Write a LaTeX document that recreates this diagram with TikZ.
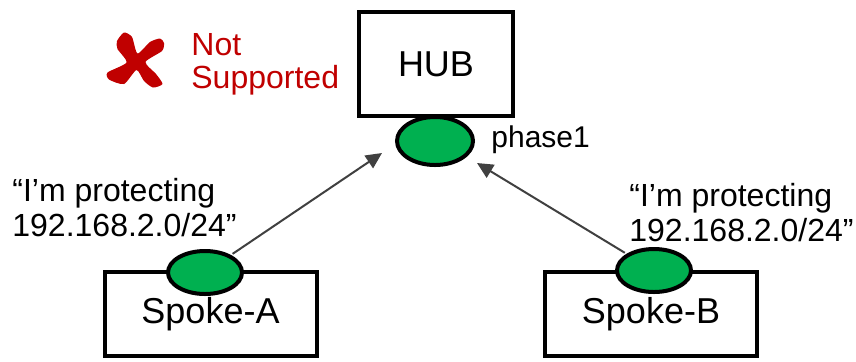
\documentclass[tikz,border=0pt]{standalone}
\usepackage{fontspec}
\setmainfont{Liberation Sans}
\usepackage{xcolor}
\usepackage{tikz}
\usetikzlibrary{shapes.geometric,arrows.meta}
\definecolor{tunnelgreen}{HTML}{00B050}
\definecolor{notred}{HTML}{C00000}
\definecolor{arrowgray}{HTML}{404040}
\tikzset{
	boxnode/.style={rectangle, draw=black, fill=white, line width=2pt, minimum width=106pt, minimum height=42pt, inner sep=0pt, font=\fontsize{18}{20}\selectfont},
	tunnelnode/.style={ellipse, draw=black, fill=tunnelgreen, line width=2pt, minimum width=37pt, minimum height=21.5pt, inner sep=0pt}
}
\tikzset{
	notetext/.style={align=left, inner sep=0pt, font=\fontsize{16}{17.5}\selectfont},
	linkarrow/.style={-{Triangle[length=8pt,width=7.5pt]}, draw=arrowgray, fill=arrowgray, line width=1pt}
}

\begin{document}
\begin{tikzpicture}[x=0.5pt,y=-0.5pt]
		\useasboundingbox (0,0) rectangle (856,361);

		\node[boxnode, minimum width=77pt, minimum height=52pt] at (436,64) (hub) {HUB};
		\node[tunnelnode, minimum width=38pt, minimum height=24pt] at (435,141) (hubend) {};
		\node[anchor=base west, inner sep=0pt, font=\fontsize{15}{16}\selectfont] at (491,147) (phase) {phase1};

		\node[boxnode] at (210.5,314) (spokea) {Spoke-A};
		\node[boxnode] at (651,314) (spokeb) {Spoke-B};
		\node[tunnelnode] at (205,272.5) (enda) {};
		\node[tunnelnode] at (654,270.5) (endb) {};

		\node[notetext, anchor=north west] at (12,178) (protecta) {“I’m protecting\\192.168.2.0/24”};
		\node[notetext, anchor=north west] at (629,183) (protectb) {“I’m protecting\\192.168.2.0/24”};
		\node[notetext, anchor=north west, text=notred, font=\fontsize{16}{16.5}\selectfont] at (191,33) (notsup) {Not\\Supported};

		% the cross mark
		\fill[notred] plot[smooth cycle, tension=0.4] coordinates {(124,32.5) (132,37) (137.5,53.5) (150,42) (160,38.5) (164,43) (162,51) (145.5,62) (156,74) (162.5,84) (153,87.5) (144,81) (136.5,70) (124,84) (109,79.5) (107.5,72.5) (126.5,62.5) (117.5,49) (117,41)};

		\coordinate (tipa) at (382,153);
		\coordinate (tipb) at (477,163);
		\draw[linkarrow, shorten <=1pt] (enda) -- (tipa);
		\draw[linkarrow, shorten <=1pt] (endb) -- (tipb);

	\end{tikzpicture}
\end{document}
